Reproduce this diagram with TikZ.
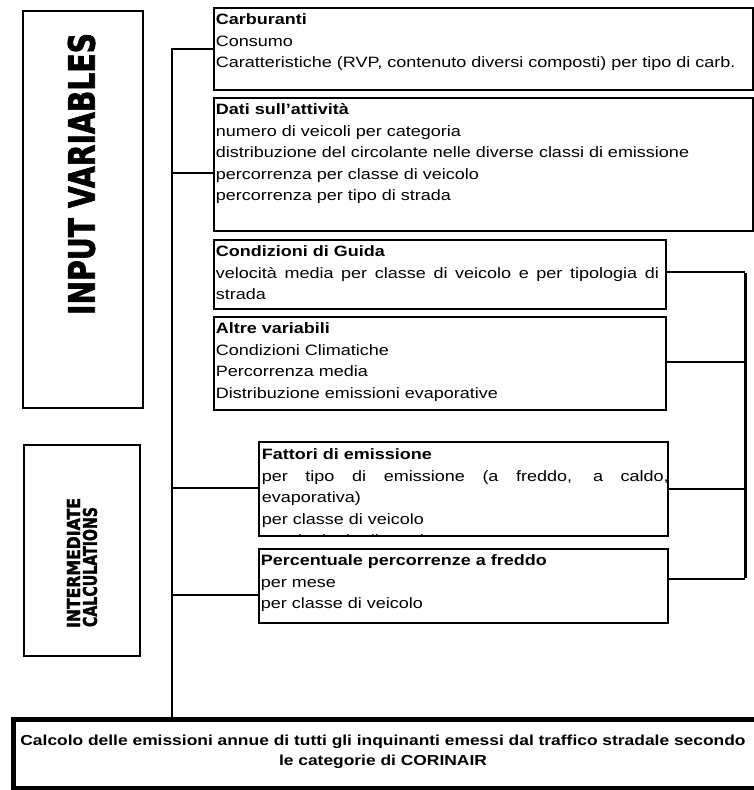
\documentclass[tikz,border=0pt]{standalone}
\usepackage{fontspec}
\setmainfont{Liberation Sans}[FakeStretch=1.2]
\newfontfamily\heavyfont{DejaVu Sans}[BoldFeatures={FakeBold=2}]
\usepackage{graphicx}

% fixed-size text panel: #1 width, #2 height, #3 content (top aligned)
\newcommand{\panel}[3]{\parbox[c][#2][t]{#1}{\fontsize{15pt}{21.5pt}\selectfont
  \parindent=0pt\leftskip=2pt\rightskip=0pt\rule{0pt}{17pt}#3}}

\begin{document}
\begin{tikzpicture}[x=1pt,y=-1pt,
  box/.style={draw, line width=1.8pt, inner sep=0pt, anchor=north west},
  sidebox/.style={draw, line width=1.6pt, inner sep=0pt, anchor=north west},
  link/.style={line width=1.8pt},
  trunkright/.style={line width=3pt}]
\clip (0,0) rectangle (754,790);

% side labels
\node[sidebox, minimum width=120, minimum height=397] (inputbox) at (22,10) {};
\node[rotate=90] (inputlabel) at (81.5,174)
  {\resizebox{282pt}{27pt}{\heavyfont\bfseries INPUT VARIABLES}};
\node[sidebox, minimum width=116, minimum height=211] (calcbox) at (23,444) {};
\node[rotate=90] (calclabA) at (73.5,563)
  {\resizebox{130pt}{13pt}{\heavyfont\bfseries INTERMEDIATE}};
\node[rotate=90] (calclabB) at (90,567)
  {\resizebox{120pt}{14pt}{\heavyfont\bfseries CALCULATIONS}};

% input panels
\node[box] (carb) at (213,7) {\panel{539pt}{82pt}{%
  \textbf{Carburanti}\\
  Consumo\\
  Caratteristiche (RVP, contenuto diversi composti) per tipo di carb.}};
\node[box] (dati) at (213,97) {\panel{539pt}{133pt}{%
  \textbf{Dati sull'attività}\\
  numero di veicoli per categoria\\
  distribuzione del circolante nelle diverse classi di emissione\\
  percorrenza per classe di veicolo\\
  percorrenza per tipo di strada}};
\node[box] (guida) at (213,239) {\panel{452pt}{69pt}{\rightskip=7pt
  \textbf{Condizioni di Guida}\\
  velocità media per classe di veicolo e per tipologia di\linebreak strada}};
\node[box] (altre) at (213,316) {\panel{452pt}{93pt}{%
  \textbf{Altre variabili}\\
  Condizioni Climatiche\\
  Percorrenza media\\
  Distribuzione emissioni evaporative}};

% intermediate panels (the last line of the first one is cut by its frame)
\node[box, minimum width=409, minimum height=94,
  path picture={\node[anchor=north west, inner sep=0pt]
    at (path picture bounding box.north west) {\panel{409pt}{110pt}{%
      \textbf{Fattori di emissione}\\
      per tipo di emissione (a freddo, a caldo,\linebreak evaporativa)\\
      per classe di veicolo\\
      per tipologia di strada}};}] (fattori) at (258,441) {};
\node[box] (perc) at (258,548) {\panel{409pt}{74pt}{%
  \textbf{Percentuale percorrenze a freddo}\\
  per mese\\
  per classe di veicolo}};

% final result
\node[draw, line width=5pt, inner sep=0pt, anchor=north west,
  minimum width=749, minimum height=69] (calcolo) at (11,717) {};
\node[align=center, inner sep=0pt, font=\fontsize{14.5pt}{20pt}\selectfont\bfseries]
  (calctext) at (383,752)
  {Calcolo delle emissioni annue di tutti gli inquinanti emessi dal traffico stradale secondo\\
   le categorie di CORINAIR};

% left trunk
\coordinate (ltop) at (172,49);
\coordinate (jdati) at (172,173);
\coordinate (jfatt) at (172,488);
\coordinate (jperc) at (172,595);
\draw[link] (carb.west |- ltop) -- (ltop) -- (calcolo.north -| ltop);
\draw[link] (jdati) -- (dati.west |- jdati);
\draw[link] (jfatt) -- (fattori.west |- jfatt);
\draw[link] (jperc) -- (perc.west |- jperc);

% right trunk
\coordinate (rtop) at (745,272);
\coordinate (raltre) at (745,362);
\coordinate (rfatt) at (745,489);
\coordinate (rbot) at (745,579);
\draw[link] (guida.east |- rtop) -- (rtop);
\draw[link] (altre.east |- raltre) -- (raltre);
\draw[link] (fattori.east |- rfatt) -- (rfatt);
\draw[link] (perc.east |- rbot) -- (rbot);
\draw[trunkright] ([yshift=-1pt]rtop) -- ([yshift=1pt]rbot);
\end{tikzpicture}
\end{document}
